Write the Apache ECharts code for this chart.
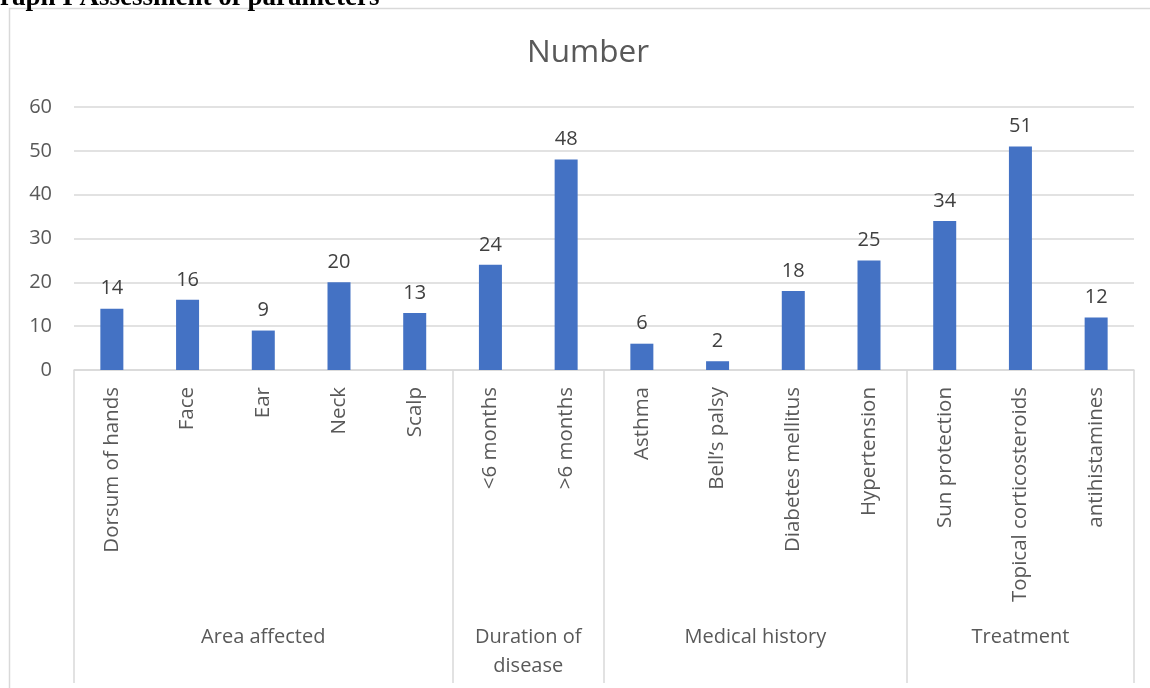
<!DOCTYPE html>
<html>
<head>
<meta charset="utf-8">
<script src="https://cdn.jsdelivr.net/npm/echarts@6/dist/echarts.min.js"></script>
<style>
html,body{margin:0;padding:0;background:#fff;}
#chart{width:1150px;height:688px;}
</style>
</head>
<body>
<div id="chart"></div>
<script>
const categories = ['Dorsum of hands','Face','Ear','Neck','Scalp','<6 months','>6 months','Asthma','Bell\u2019s palsy','Diabetes mellitus','Hypertension','Sun protection','Topical corticosteroids','antihistamines'];
const values = [14,16,9,20,13,24,48,6,2,18,25,34,51,12];
const groupNames = ['Area affected','Duration of\ndisease','Medical history','Treatment'];
const groupSizes = [5,2,4,3];
const yTicks = [0,10,20,30,40,50,60];

const FONT = 'Open Sans';
const boundaries = [0];
const centers = [];
groupSizes.forEach(function(n){
  const start = boundaries[boundaries.length-1];
  centers.push(start + n/2);
  boundaries.push(start + n);
});

const chart = echarts.init(document.getElementById('chart'), null, {renderer:'canvas'});
chart.setOption({
  animation:false,
  backgroundColor:'#fff',
  graphic:[
    {type:'rect', shape:{x:9.5, y:8.5, width:1200, height:760}, style:{fill:'none', stroke:'#d9d9d9', lineWidth:1.5}, silent:true, z:-1},
    {type:'text', x:-21, y:12, style:{text:'Graph I Assessment of parameters', fontFamily:'Liberation Serif', fontWeight:'bold', fontSize:27, fill:'#000', verticalAlign:'bottom'}},
    {type:'text', x:588, y:53, style:{text:'Number', fontFamily:FONT, fontSize:31.5, fill:'#595959', align:'center', verticalAlign:'middle'}}
  ],
  grid:{left:74, right:16, top:107, bottom:318, containLabel:false},
  xAxis:[
    {
      type:'category', data:categories, boundaryGap:true,
      axisLine:{show:true, lineStyle:{color:'#d9d9d9', width:1.5}},
      axisTick:{show:false},
      axisLabel:{rotate:90, interval:0, margin:17, fontFamily:FONT, fontSize:20.5, color:'#595959'},
      splitLine:{show:false}
    },
    {
      type:'value', min:0, max:14, position:'bottom',
      axisLine:{show:false},
      splitLine:{show:false},
      axisTick:{show:true, customValues:boundaries, length:313, inside:false, lineStyle:{color:'#d9d9d9', width:1.5}},
      axisLabel:{show:true, customValues:centers, margin:253, fontFamily:FONT, fontSize:20, color:'#595959', lineHeight:29, align:'center',
        formatter:function(v){ const i = centers.indexOf(v); return i>=0 ? groupNames[i] : ''; }}
    }
  ],
  yAxis:{
    type:'value', min:yTicks[0], max:yTicks[yTicks.length-1], interval:10,
    axisLine:{show:false}, axisTick:{show:false},
    axisLabel:{margin:22, fontFamily:FONT, fontSize:20, color:'#595959'},
    splitLine:{show:true, lineStyle:{color:'#d9d9d9', width:1.5}}
  },
  series:[{
    type:'bar', xAxisIndex:0, data:values, barWidth:23,
    itemStyle:{color:'#4472C4'},
    label:{show:true, position:'top', distance:10, fontFamily:FONT, fontSize:20, color:'#404040'}
  }]
});
</script>
</body>
</html>
